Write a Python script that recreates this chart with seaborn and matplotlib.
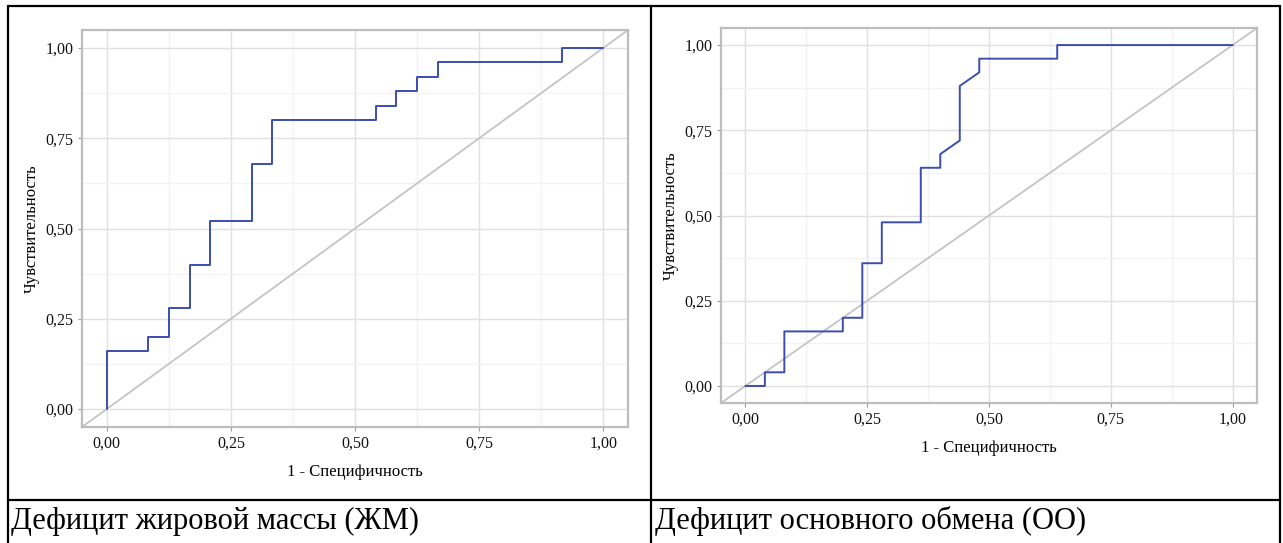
import numpy as np
import pandas as pd
import matplotlib.pyplot as plt
import seaborn as sns
from matplotlib.ticker import MultipleLocator, FuncFormatter
from matplotlib.lines import Line2D

# ROC curve, fat mass deficit (left panel)
fm_fpr = [0, 0, 2/24, 2/24, 3/24, 3/24, 4/24, 4/24, 5/24, 5/24, 7/24, 7/24, 8/24, 8/24,
          13/24, 13/24, 14/24, 14/24, 15/24, 15/24, 16/24, 16/24, 22/24, 22/24, 1]
fm_tpr = [0, 0.16, 0.16, 0.20, 0.20, 0.28, 0.28, 0.40, 0.40, 0.52, 0.52, 0.68, 0.68, 0.80,
          0.80, 0.84, 0.84, 0.88, 0.88, 0.92, 0.92, 0.96, 0.96, 1.00, 1.00]

# ROC curve, basal metabolism deficit (right panel)
bm_fpr = [0, 0.04, 0.04, 0.08, 0.08, 0.20, 0.20, 0.24, 0.24, 0.28, 0.28, 0.36, 0.36, 0.40,
          0.40, 0.44, 0.44, 0.48, 0.48, 0.64, 0.64, 1.00]
bm_tpr = [0, 0, 0.04, 0.04, 0.16, 0.16, 0.20, 0.20, 0.36, 0.36, 0.48, 0.48, 0.64, 0.64,
          0.68, 0.72, 0.88, 0.92, 0.96, 0.96, 1.00, 1.00]

captions = ['Дефицит жировой массы (ЖМ)', 'Дефицит основного обмена (ОО)']
xlabel = '1 - Специфичность'
ylabel = 'Чувствительность'

sns.set_theme(style='white')
plt.rcParams['font.family'] = ['Liberation Serif', 'DejaVu Serif']
plt.rcParams['text.color'] = 'black'
plt.rcParams['axes.labelcolor'] = 'black'
plt.rcParams['xtick.color'] = 'black'
plt.rcParams['ytick.color'] = 'black'

W, H = 1283, 543
fig = plt.figure(figsize=(W / 100, H / 100), dpi=100)

def px_axes(x0, y0, x1, y1):
    return fig.add_axes([x0 / W, 1 - y1 / H, (x1 - x0) / W, (y1 - y0) / H])

comma = FuncFormatter(lambda v, p: f'{v:.2f}'.replace('.', ','))

def roc_panel(ax, fpr, tpr):
    ax.plot([0, 1], [0, 1], transform=ax.transAxes, color='#c4c4c4', lw=1.3, zorder=2)
    df = pd.DataFrame({'fpr': fpr, 'tpr': tpr})
    sns.lineplot(data=df, x='fpr', y='tpr', sort=False, estimator=None,
                 color='#3b4db3', lw=1.4, ax=ax, zorder=3)
    ax.set_xlim(-0.05, 1.05)
    ax.set_ylim(-0.05, 1.05)
    ax.xaxis.set_major_locator(MultipleLocator(0.25))
    ax.yaxis.set_major_locator(MultipleLocator(0.25))
    ax.xaxis.set_minor_locator(MultipleLocator(0.125))
    ax.yaxis.set_minor_locator(MultipleLocator(0.125))
    ax.xaxis.set_major_formatter(comma)
    ax.yaxis.set_major_formatter(comma)
    ax.grid(which='major', color='#e0e0e0', lw=1.0)
    ax.grid(which='minor', color='#f3f3f3', lw=1.0)
    ax.set_axisbelow(True)
    for s in ax.spines.values():
        s.set_color('#bdbdbd')
        s.set_linewidth(1.6)
    ax.tick_params(which='major', direction='out', length=3, width=0.8, color='#9a9a9a',
                   labelcolor='#111111', labelsize=11.5, pad=3, bottom=True, left=True)
    ax.tick_params(which='minor', length=0)
    ax.set_xlabel(xlabel, fontsize=12, labelpad=9)
    ax.set_ylabel(ylabel, fontsize=12, labelpad=4)

ax1 = px_axes(82, 30, 628, 427)
roc_panel(ax1, fm_fpr, fm_tpr)
ax2 = px_axes(721, 28, 1257, 403)
roc_panel(ax2, bm_fpr, bm_tpr)

# table borders
def hline(y, x0, x1):
    fig.add_artist(Line2D([x0 / W, x1 / W], [1 - y / H, 1 - y / H], color='black', lw=1.6))

def vline(x, y0, y1):
    fig.add_artist(Line2D([x / W, x / W], [1 - y0 / H, 1 - y1 / H], color='black', lw=1.6))

hline(6, 8, 1280)
hline(500, 8, 1280)
vline(8, 6, 543)
vline(651, 6, 543)
vline(1280, 6, 543)

fig.text(11 / W, 1 - 521 / H, captions[0], fontsize=22, va='center', ha='left')
fig.text(655 / W, 1 - 521 / H, captions[1], fontsize=22, va='center', ha='left')

plt.savefig('out.png', dpi=100)
plt.close()
